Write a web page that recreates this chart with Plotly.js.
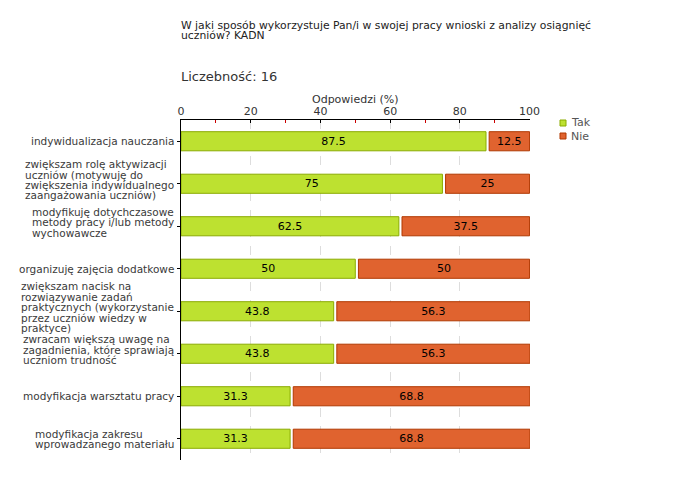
<!DOCTYPE html>
<html>
<head>
<meta charset="utf-8">
<script src="https://cdn.plot.ly/plotly-3.0.1.min.js"></script>
<style>html,body{margin:0;padding:0;background:#fff;}#chart{width:680px;height:480px;}</style>
</head>
<body>
<div id="chart"></div>
<script>
const categories = [
  "indywidualizacja nauczania",
  "zwiększam rolę aktywizacji<br>uczniów (motywuję do<br>zwiększenia indywidualnego<br>zaangażowania uczniów)",
  "modyfikuję dotychczasowe<br>metody pracy i/lub metody<br>wychowawcze",
  "organizuję zajęcia dodatkowe",
  "zwiększam nacisk na<br>rozwiązywanie zadań<br>praktycznych (wykorzystanie<br>przez uczniów wiedzy w<br>praktyce)",
  "zwracam większą uwagę na<br>zagadnienia, które sprawiają<br>uczniom trudność",
  "modyfikacja warsztatu pracy",
  "modyfikacja zakresu<br>wprowadzanego materiału"
];
const takValues = [87.5, 75, 62.5, 50, 43.8, 43.8, 31.3, 31.3];
const nieValues = [12.5, 25, 37.5, 50, 56.3, 56.3, 68.8, 68.8];
const seriesNames = ["Tak", "Nie"];
const seriesColors = ["#bde130", "#e0632f"];
const seriesLines = ["#8aab00", "#b03800"];
const titleLines = ["W jaki sposób wykorzystuje Pan/i w swojej pracy wnioski z analizy osiągnięć", "uczniów? KADN"];
const countText = "Liczebność: 16";
const axisTitle = "Odpowiedzi (%)";

const FONT = "DejaVu Sans, Verdana, sans-serif";
const plotLeft = 181, plotW = 349, plotTop = 120, plotH = 340;
const py = p => 1 + (plotTop - p) / plotH;   // pixel -> paper y
const px = p => (p - plotLeft) / plotW;      // pixel -> paper x
const gap = 0.9;  // visual gap between segments (data units)

const traces = [
  {
    type: "bar", orientation: "h", name: seriesNames[0],
    y: categories, x: takValues, base: takValues.map(() => 0),
    text: takValues.map(String), textposition: "inside", insidetextanchor: "middle",
    textfont: {family: FONT, size: 11, color: "#000"},
    marker: {color: seriesColors[0], line: {color: seriesLines[0], width: 1}},
    hoverinfo: "skip", cliponaxis: false
  },
  {
    type: "bar", orientation: "h", name: seriesNames[1],
    y: categories, x: nieValues.map(v => v - gap), base: takValues.map(v => v + gap),
    text: nieValues.map(String), textposition: "inside", insidetextanchor: "middle",
    textfont: {family: FONT, size: 11, color: "#000"},
    marker: {color: seriesColors[1], line: {color: seriesLines[1], width: 1}},
    hoverinfo: "skip", cliponaxis: false
  }
];

// text measuring for left-aligned multi-line labels with tight line spacing
const cv = document.createElement("canvas").getContext("2d");
const LABEL_SIZE = 10.5;
cv.font = LABEL_SIZE + "px 'DejaVu Sans'";

const annotations = [];
titleLines.forEach((t, i) => annotations.push({
  text: t, xref: "paper", yref: "paper", x: px(179), y: py(25.5 + i * 10), xanchor: "left", yanchor: "middle",
  showarrow: false, font: {family: FONT, size: 10.8, color: "#222"}
}));
annotations.push({text: countText, xref: "paper", yref: "paper", x: px(179), y: py(76), xanchor: "left", yanchor: "middle",
  showarrow: false, font: {family: FONT, size: 13, color: "#333"}});
annotations.push({text: axisTitle, xref: "paper", yref: "paper", x: 0.5, y: py(99), xanchor: "center", yanchor: "middle",
  showarrow: false, font: {family: FONT, size: 11, color: "#333"}});

const LINE_H = 10.4, RIGHT = 172;
categories.forEach(c => {
  const lines = c.split("<br>");
  const n = lines.length;
  const w = Math.max(...lines.map(l => cv.measureText(l).width));
  const off = n >= 3 ? 4 : 0;
  lines.forEach((l, i) => annotations.push({
    text: l, xref: "paper", yref: "y", x: px(RIGHT - w), y: c, xanchor: "left", yanchor: "middle",
    yshift: ((n - 1) / 2 - i) * LINE_H + off, showarrow: false,
    font: {family: FONT, size: LABEL_SIZE, color: "#3a3a3a"}
  }));
});

// legend
const shapes = [];
seriesNames.forEach((s, i) => {
  const cy = 123 + i * 13;
  shapes.push({type: "rect", xref: "paper", yref: "paper", x0: px(560), x1: px(566), y0: py(cy - 3), y1: py(cy + 3),
    fillcolor: seriesColors[i], line: {color: seriesLines[i], width: 1}});
  annotations.push({text: s, xref: "paper", yref: "paper", x: px(569), y: py(cy), xanchor: "left", yanchor: "middle",
    showarrow: false, font: {family: FONT, size: 11, color: "#555"}});
});

const layout = {
  width: 680, height: 480,
  margin: {l: plotLeft, r: 680 - plotLeft - plotW, t: plotTop, b: 480 - plotTop - plotH, pad: 0},
  paper_bgcolor: "#fff", plot_bgcolor: "#fff",
  font: {family: FONT, size: 11, color: "#333"},
  barmode: "overlay", bargap: 0.55,
  showlegend: false,
  xaxis: {
    side: "top", range: [0, 100.12], tickvals: [0, 20, 40, 60, 80, 100], fixedrange: true,
    showline: true, linecolor: "#000", linewidth: 1,
    ticks: "inside", ticklen: 3, tickcolor: "#000",
    showgrid: true, gridcolor: "#dddddd", griddash: "dash", gridwidth: 1,
    zeroline: false,
    minor: {tickvals: [10, 30, 50, 70, 90], ticks: "inside", ticklen: 3, tickcolor: "#cc0000", showgrid: false},
    tickfont: {family: FONT, size: 11, color: "#333"}
  },
  yaxis: {
    autorange: "reversed", type: "category", fixedrange: true,
    showline: true, linecolor: "#000", linewidth: 1,
    ticks: "outside", ticklen: 3, tickcolor: "#000",
    showticklabels: false, showgrid: false, zeroline: false
  },
  shapes: shapes,
  annotations: annotations
};

Plotly.newPlot("chart", traces, layout, {displayModeBar: false, staticPlot: true});
</script>
</body>
</html>
